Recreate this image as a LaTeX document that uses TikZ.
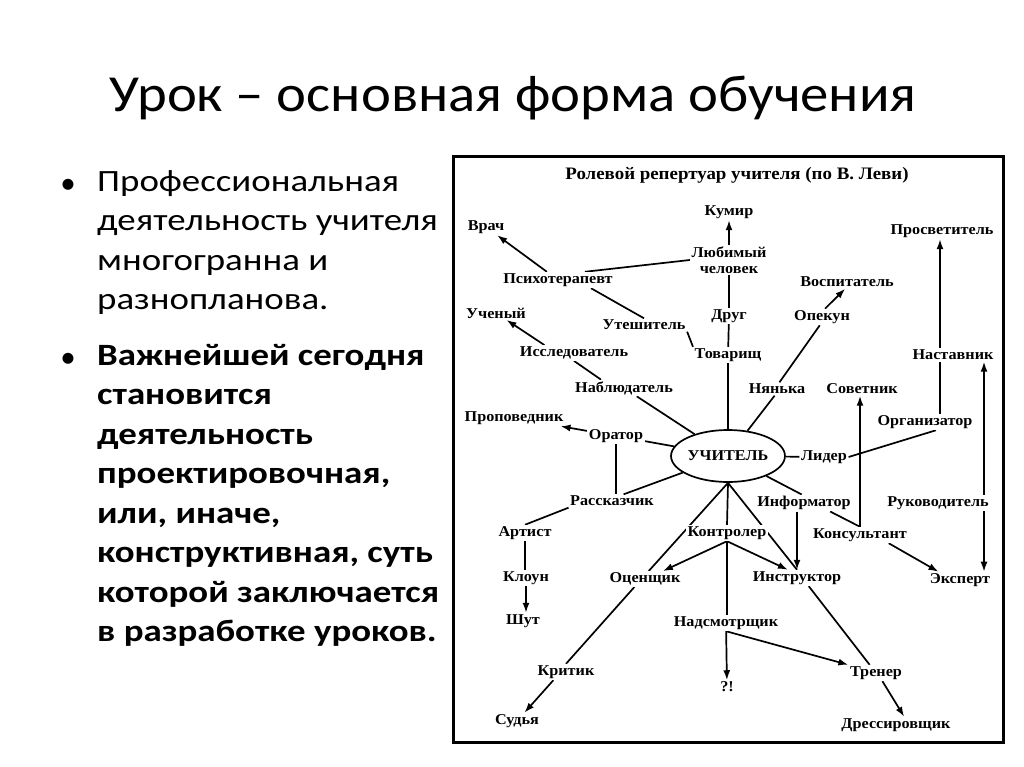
\documentclass[tikz,border=0pt]{standalone}
\usepackage{fontspec}
\setmainfont{Carlito}
\newfontfamily\headfont[FakeStretch=1.09]{Carlito}
\newfontfamily\bodyfont[FakeStretch=1.19]{Carlito}
\newfontfamily\schemefont[FakeStretch=1.08]{Liberation Serif}
\usetikzlibrary{arrows.meta,shapes.geometric,backgrounds}

\tikzset{
  role/.style={font=\schemefont\fontsize{15}{16}\selectfont\bfseries, inner sep=1.5pt, fill=white, align=center},
  link/.style={line width=1.7pt},
  arr/.style={link, -{Latex[length=10pt,width=7pt]}},
  slidetext/.style={anchor=north west, align=left, inner sep=0pt, font=\bodyfont\fontsize{31}{39.5}\selectfont},
}

\begin{document}
\begin{tikzpicture}[x=1pt,y=-1pt]
\useasboundingbox (0,0) rectangle (1024,767);

% slide
\node[font=\headfont\fontsize{52}{60}\selectfont] (title) at (513,98) {Урок – основная форма обучения};
\node[font=\fontsize{31}{36}\selectfont] (dot1) at (68,186) {•};
\node[font=\fontsize{31}{36}\selectfont] (dot2) at (68,360) {•};
\node[slidetext] (par1) at (97,170) {Профессиональная\\деятельность учителя\\многогранна и\\разнопланова.};
\node[slidetext, font=\bodyfont\fontsize{31}{39.5}\selectfont\bfseries] (par2) at (97,344)
  {Важнейшей сегодня\\становится\\деятельность\\проектировочная,\\или, иначе,\\конструктивная, суть\\которой заключается\\в разработке уроков.};

% scheme
\node[role, fill=none, font=\schemefont\fontsize{17.5}{19}\selectfont\bfseries] (head) at (737,175) {Ролевой репертуар учителя (по В. Леви)};
\node[role] (kumir) at (729,212) {Кумир};
\node[role] (vrach) at (486,227) {Врач};
\node[role] (ljub) at (729,260) {Любимый\\человек};
\node[role] (psih) at (558,280) {Психотерапевт};
\node[role] (prosvet) at (942,231) {Просветитель};
\node[role] (vospit) at (847,282) {Воспитатель};
\node[role] (uchen) at (496,313) {Ученый};
\node[role] (utesh) at (644,325) {Утешитель};
\node[role] (drug) at (729,316) {Друг};
\node[role] (opekun) at (822,317) {Опекун};
\node[role] (issl) at (574,353) {Исследователь};
\node[role] (tovar) at (728,355) {Товарищ};
\node[role] (nastav) at (953,355) {Наставник};
\node[role] (nabl) at (624,388) {Наблюдатель};
\node[role] (nyanka) at (777,389) {Нянька};
\node[role] (sovet) at (862,389) {Советник};
\node[role] (propov) at (514,418) {Проповедник};
\node[role] (organiz) at (925,422) {Организатор};
\node[role] (orator) at (616,436) {Оратор};
\node[role, ellipse, draw, line width=1.7pt, minimum width=107pt, minimum height=52pt, inner sep=0pt] (uchitel) at (728,456) {УЧИТЕЛЬ};
\node[role] (lider) at (824,457) {Лидер};
\node[role] (rassk) at (612,501) {Рассказчик};
\node[role] (inform) at (804,503) {Информатор};
\node[role] (rukov) at (938,503) {Руководитель};
\node[role] (artist) at (525,533) {Артист};
\node[role] (kontrol) at (727,533) {Контролер};
\node[role] (konsult) at (860,535) {Консультант};
\node[role] (kloun) at (526,578) {Клоун};
\node[role] (ocensh) at (645,579) {Оценщик};
\node[role] (instr) at (797,578) {Инструктор};
\node[role] (ekspert) at (960,580) {Эксперт};
\node[role] (shut) at (523,621) {Шут};
\node[role] (nadsm) at (726,623) {Надсмотрщик};
\node[role] (kritik) at (566,672) {Критик};
\node[role] (trener) at (876,673) {Тренер};
\node[role] (vopr) at (727,687) {?!};
\node[role] (sudya) at (517,721) {Судья};
\node[role] (dressir) at (896,725) {Дрессировщик};
\coordinate (ncol) at (940,0);
\coordinate (rcol) at (984,0);

\begin{scope}[on background layer]
\draw[line width=3pt] (453,157) rectangle (1003,742);
\draw[arr] (psih) -- (vrach);
\draw[link] (psih.17) -- (ljub.west);
\draw[arr] (ljub) -- (kumir);
\draw[link] (ljub) -- (drug);
\draw[link] (drug) -- (tovar);
\draw[link] (tovar) -- (tovar |- uchitel.north);
\draw[link] (psih.-14) -- (utesh.north);
\draw[link] (utesh.south east) -- (tovar.north west);
\draw[arr] (issl.165) -- (uchen);
\draw[link] (issl.south) -- (nabl.160);
\draw[link] (nabl) -- (uchitel);
\draw[arr] (orator) -- (propov);
\draw[link] (orator) -- (uchitel);
\draw[link] (orator) -- (orator |- rassk.north);
\draw[link] (rassk.30) -- (uchitel);
\draw[link] (rassk.south west) -- (artist.north);
\draw[link] (artist.south) -- (artist.south |- kloun.north);
\draw[arr] (kloun.south) -- (kloun.south |- shut.north);
\draw[arr] (opekun.70) -- (vospit.255);
\draw[link] (opekun.255) -- (nyanka.70);
\draw[link] (nyanka.250) -- (uchitel);
\draw[arr] (ncol |- nastav.north) -- (ncol |- prosvet.south);
\draw[link] (ncol |- organiz.north) -- (ncol |- nastav.south);
\draw[link] (organiz.-37) -- (lider.east);
\draw[link] (uchitel) -- (lider);
\draw[link] (inform.-18) -- (konsult.north);
\draw[arr] (konsult.north) -- (konsult.north |- sovet.south);
\draw[arr] (rcol |- rukov.north) -- (rcol |- nastav.south);
\draw[arr] (rcol |- rukov.south) -- (rcol |- ekspert.north);
\draw[link] (uchitel) -- (inform.105);
\draw[arr] (instr |- inform.south) -- (instr);
\draw[arr] (konsult.-16) -- (ekspert.159);
\draw[link] (uchitel.south) -- (ocensh.65);
\draw[link] (uchitel.south) -- (instr.north);
\draw[link] (uchitel.south) -- (kontrol.north);
\draw[arr] (kontrol.south) -- (ocensh.24);
\draw[arr] (kontrol.south) -- (instr.138);
\draw[link] (kontrol) -- (kontrol |- nadsm.north);
\draw[arr] (nadsm) -- (vopr);
\draw[arr] (nadsm.south) -- (trener.north west);
\draw[link] (ocensh.217) -- (kritik.north);
\draw[arr] (kritik.213) -- (sudya);
\draw[link] (instr.-35) -- (trener);
\draw[arr] (trener.-52) -- (dressir.45);
\end{scope}
\end{tikzpicture}
\end{document}
